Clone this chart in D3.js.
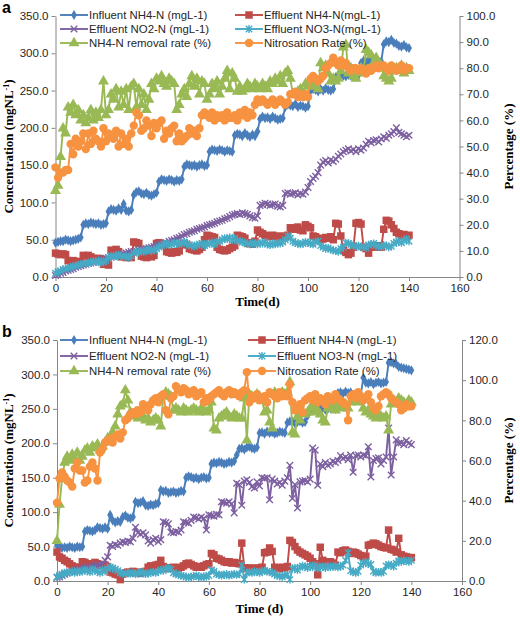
<!DOCTYPE html>
<html><head><meta charset="utf-8">
<script src="https://cdn.jsdelivr.net/npm/d3@7"></script>
<style>body{margin:0;background:#fff}</style>
</head><body>
<svg id="c" width="520" height="617"></svg>
<script>
// ---------- DATA ----------
const days = d3.range(0, 141);
const xTickValues = [0,20,40,60,80,100,120,140,160];
const leftTickValues = [0,50,100,150,200,250,300,350];
const rightTickValuesA = [0,10,20,30,40,50,60,70,80,90,100];
const rightTickValuesB = [0,20,40,60,80,100,120];

const legendNamesA = ["Influent NH4-N (mgL-1)","Effluent NH4-N(mgL-1)","Effluent NO2-N (mgL-1)","Effluent NO3-N(mgL-1)","NH4-N removal rate (%)","Nitrosation Rate (%)"];
const legendNamesB = ["Influent NH4-N (mgL-1)","Effluent NH4-N (mgL-1)","Effluent NO2-N (mgL-1)","Effluent NO3-N (mgL-1)","NH4-N removal rate (%)","Nitrosation Rate (%)"];

// Panel a
const aInfluent = [46,47,48,48,50,49,48,49,50,51, 53,70,72,71,73,72,71,72,70,71, 72,88,91,90,89,92,90,98,89,88,
  90,110,114,115,112,111,113,110,109,111, 113,128,131,130,129,131,130,128,130,129, 131,148,151,150,149,150,148,150,151,149,
  150,168,171,170,169,171,170,168,170,169, 168,190,192,191,189,193,190,188,191,189, 195,212,215,213,214,212,215,213,211,212,
  213,228,231,230,229,232,228,230,229,227, 229,250,252,251,249,252,250,253,251,250, 252,268,270,272,270,269,271,270,272,270,
  271,287,290,288,291,289,287,290,288,289, 312,316,315,318,314,313,310,309,311,308, 307];
const aEffNH4 = [32,31,30,31,30,22,21,22,20,21, 20,29,28,29,27,25,24,25,24,17, 18,16,36,35,37,34,27,28,26,27,
  26,47,46,45,28,27,26,28,27,29, 45,46,44,43,34,33,32,34,33,35, 44,45,43,38,37,36,35,37,40,50,
  56,55,54,53,40,37,36,35,36,38, 40,42,56,55,54,52,45,46,44,48, 63,60,58,56,55,54,56,55,54,53,
  55,54,56,66,65,64,67,63,62,70, 68,66,55,54,52,50,51,53,52,54, 50,72,71,55,36,33,30,32,40,72,
  73,71,40,38,32,40,41,40,42,40, 64,76,75,70,65,60,58,56,57,55, 56];
const aNO2 = [2,3,5,6,8,9,10,11,13,14, 15,16,17,18,19,20,21,22,22,24, 25,26,27,28,28,29,30,31,32,33,
  34,34,35,36,37,38,38,39,40,41, 42,43,44,46,46,48,49,50,52,53, 55,57,58,60,61,62,64,65,66,67,
  69,70,71,72,74,75,76,78,79,81, 83,84,85,84,86,85,84,82,80,79, 82,96,97,99,98,96,97,98,95,94,
  96,112,113,111,112,113,110,112,111,114, 120,128,132,135,140,150,154,156,153,157, 155,158,162,165,168,170,172,169,171,168,
  172,170,173,178,182,180,183,184,181,185, 188,186,190,192,195,200,194,192,190,188, 190];
const aNO3 = [5,7,8,10,11,12,13,14,15,16, 17,18,18,19,20,21,20,22,19,20, 22,26,28,27,29,30,28,27,28,26,
  28,32,34,33,35,34,36,37,35,36, 38,40,42,44,45,43,44,46,45,44, 46,47,45,43,42,41,43,44,45,42,
  44,45,46,44,47,48,50,52,51,53, 50,52,49,48,47,46,45,44,46,45, 44,46,45,47,44,43,45,44,46,45,
  47,50,55,52,48,46,45,44,45,47, 46,45,44,47,48,42,40,38,39,37, 36,35,34,38,40,46,45,44,42,41,
  42,40,41,39,43,44,45,42,41,40, 43,42,40,41,45,47,48,46,49,51, 48];
const aRemoval = [33,35,46,57,55,65,63,66,62,64, 60,62,59,61,64,60,63,61,64,75, 62,64,70,68,72,65,71,66,72,64,
  73,74,65,72,66,70,64,68,74,72, 76,75,77,74,73,76,75,74,64,66, 70,72,69,74,77,73,76,70,75,74,
  68,70,74,72,75,70,73,76,79,72, 78,76,71,73,71,72,74,73,72,74, 73,72,74,73,72,75,74,76,75,77,
  74,78,79,76,70,70,71,72,70,74, 73,75,74,73,72,82,80,81,78,75, 76,75,76,79,88,89,78,80,77,76,
  78,80,79,87,86,85,82,84,82,81, 77,76,75,76,79,80,79,81,78,80, 79];
const aNitros = [42,38,40,40,41,41,51,47,53,50, 52,55,49,55,51,56,53,52,50,57, 52,55,54,53,56,50,55,51,53,50,
  55,58,63,62,56,57,60,58,54,59, 57,59,60,53,56,55,57,58,52,55, 52,53,54,57,55,56,54,57,62,63,
  62,61,63,60,62,61,62,60,63,61, 61,62,60,63,62,64,61,63,62,66, 68,67,68,67,66,67,68,66,67,68,
  67,66,67,70,70,71,69,70,69,70, 69,76,77,76,75,76,77,80,81,82, 84,82,81,83,81,82,80,79,80,80,
  79,80,79,78,80,79,80,81,80,81, 81,80,79,81,80,79,80,81,79,80, 80];

// Panel b
const bInfluent = [52,50,48,49,48,50,49,48,50,49, 50,72,74,73,72,74,78,77,76,78, 76,96,88,85,87,86,93,95,92,91,
  93,115,113,114,116,110,109,111,110,112, 113,132,130,131,128,129,130,128,129,131, 130,150,152,151,149,150,148,150,151,149,
  150,170,172,171,173,172,170,171,173,172, 174,183,192,193,191,194,195,193,192,194, 215,216,214,217,215,216,214,215,217,216,
  215,230,232,231,229,231,232,230,231,240, 248,251,249,250,252,251,249,250,251,252, 250,273,274,272,275,273,274,270,269,271,
  270,295,288,287,289,286,288,289,287,288, 289,317,318,316,315,311,310,309,308,307, 306];
const bEffNH4 = [42,35,33,30,28,25,22,20,20,19, 28,27,25,24,25,27,25,23,24,23, 21,13,12,10,9,2,10,12,13,12,
  14,13,12,11,13,14,20,22,21,23, 24,30,21,19,18,19,20,18,19,20, 22,25,26,24,22,20,21,20,22,24,
  25,40,38,33,32,30,28,27,28,26, 27,26,25,55,19,18,19,18,17,19, 18,20,41,42,48,43,20,19,18,20,
  19,21,59,56,50,45,42,40,38,36, 33,28,25,9,49,30,28,27,28,26, 23,42,41,44,45,43,40,42,41,39,
  37,35,36,52,53,55,54,52,50,49, 48,74,46,45,42,62,38,36,35,34, 34];
const bNO2 = [5,6,8,10,12,13,14,15,16,17, 18,19,20,20,21,22,23,24,25,30, 35,52,50,53,52,55,57,56,58,57,
  62,78,70,68,70,67,58,55,60,62, 57,60,86,85,83,71,70,72,71,74, 86,85,84,88,93,92,90,93,91,74,
  96,95,94,97,96,115,114,113,115,112, 99,142,140,110,145,147,143,137,135,144, 138,150,149,150,118,148,145,141,143,139,
  145,150,168,120,140,106,144,145,146,144, 148,193,190,139,170,166,172,168,170,174, 172,175,182,178,180,176,183,158,182,183,
  180,183,182,195,151,175,178,179,170,175, 180,222,154,180,205,200,201,198,204,200, 198];
const bNO3 = [6,8,10,12,11,13,14,12,15,13, 14,16,15,13,17,15,14,12,16,14, 18,20,19,17,15,12,11,10,12,11,
  12,10,11,13,12,10,11,12,13,12, 14,16,15,18,19,17,12,10,9,8, 7,6,5,6,7,8,6,5,7,6,
  8,16,14,10,9,8,9,10,8,9, 10,9,10,23,2,12,13,12,14,13, 12,14,15,14,13,12,10,8,7,6,
  8,9,2,18,19,16,20,22,21,19, 22,20,23,18,20,21,19,22,20,21, 22,20,21,23,30,41,15,13,12,14,
  23,26,28,25,24,14,12,13,12,14, 22,24,23,21,26,29,28,30,29,28, 30];
const bRemoval = [20,38,51,59,62,60,63,61,64,60, 62,65,66,64,67,66,68,65,67,69, 71,72,74,77,83,87,88,95,90,84,
  82,84,81,83,82,80,81,79,80,81, 80,77,92,94,93,92,85,86,85,84, 86,85,84,85,86,85,84,86,85,84,
  85,89,76,75,81,82,83,84,82,81, 83,82,81,81,91,70,93,92,91,93, 92,90,84,85,79,76,94,93,92,94,
  93,94,99,74,73,82,80,84,83,84, 86,87,84,85,83,80,79,86,87,86, 85,88,86,87,88,86,89,90,91,89,
  90,86,84,85,83,82,81,83,82,81, 82,75,88,90,89,91,90,89,88,90, 89];
const bNitros = [39,51,54,52,50,49,47,56,59,55, 55,49,50,57,59,56,50,64,66,69, 70,71,69,72,73,71,74,80,81,83,
  84,83,85,84,88,86,85,88,90,91, 89,92,93,85,83,91,92,97,95,94, 96,95,93,94,95,92,93,94,89,91,
  90,92,93,94,95,93,92,94,95,93, 94,93,92,94,95,104,89,92,91,93, 90,91,92,89,94,93,92,91,94,92,
  93,92,98,89,85,86,88,84,90,91, 92,90,93,89,91,90,88,92,91,90, 93,91,90,89,88,80,92,93,91,94,
  92,90,91,93,89,86,85,87,92,93, 94,93,91,90,89,88,85,86,88,87, 87];

// ---------- STYLE ----------
const colors = ["#4A7EBB","#BE4B48","#7D60A0","#46AAC5","#98B954","#F69240"];
const axisColor = "#868686";
const textColor = "#262626";
const sym = {
  diamond: d3.symbol().type(d3.symbolDiamond).size(30)(),
  square: d3.symbol().type(d3.symbolSquare).size(56)(),
  xmark: "M-3.3,-3.3L3.3,3.3M-3.3,3.3L3.3,-3.3",
  star: "M-3.2,-3.2L3.2,3.2M-3.2,3.2L3.2,-3.2M0,-4L0,4",
  triangle: d3.symbol().type(d3.symbolTriangle).size(52)(),
  circle: d3.symbol().type(d3.symbolCircle).size(56)()
};
const symKeys = ["diamond","square","xmark","star","triangle","circle"];

const svg = d3.select("#c");

function drawPanel(cfg) {
  const g = svg.append("g");
  const x = d3.scaleLinear().domain([0,160]).range([cfg.x0, cfg.x1]);
  const yL = d3.scaleLinear().domain([0,350]).range([cfg.yBot, cfg.yTop]);
  const yR = d3.scaleLinear().domain([0,cfg.rightMax]).range([cfg.yBot, cfg.yTop]);

  const fmt = d3.format(".1f");
  const styleAxis = a => {
    a.select(".domain").attr("stroke", axisColor).attr("stroke-width",1);
    a.selectAll(".tick line").attr("stroke", axisColor);
    a.selectAll(".tick text").attr("fill", textColor).style("font-family","'Liberation Sans',Arial,sans-serif").style("font-size","11.5px");
  };
  g.append("g").attr("transform",`translate(${cfg.x0},0)`)
    .call(d3.axisLeft(yL).tickValues(leftTickValues).tickFormat(fmt).tickSize(4).tickSizeOuter(0)).call(styleAxis);
  g.append("g").attr("transform",`translate(${cfg.x1},0)`)
    .call(d3.axisRight(yR).tickValues(cfg.rightTicks).tickFormat(fmt).tickSize(4).tickSizeOuter(0)).call(styleAxis);
  g.append("g").attr("transform",`translate(0,${cfg.yBot})`)
    .call(d3.axisBottom(x).tickValues(xTickValues).tickFormat(d3.format("d")).tickSize(4).tickSizeOuter(0)).call(styleAxis);

  // series
  cfg.series.forEach((vals, i) => {
    const yS = i >= 4 ? yR : yL;
    const pts = days.map((d, k) => [x(d), yS(vals[k])]);
    g.append("path").attr("d", d3.line()(pts)).attr("fill","none")
      .attr("stroke", colors[i]).attr("stroke-width", 1.9).attr("stroke-linejoin","round");
    const isStroke = (symKeys[i] === "xmark" || symKeys[i] === "star");
    g.append("g").selectAll("path").data(pts).join("path")
      .attr("d", sym[symKeys[i]])
      .attr("transform", p => `translate(${p[0]},${p[1]})`)
      .attr("fill", isStroke ? "none" : colors[i])
      .attr("stroke", isStroke ? colors[i] : "none")
      .attr("stroke-width", isStroke ? 1.4 : 0);
  });

  // legend
  const font = "'Liberation Sans',Arial,sans-serif";
  const legendOrder = [[0,0],[2,1],[4,2],[1,0],[3,1],[5,2]];
  legendOrder.forEach(([si,row], j) => {
    const col = j < 3 ? cfg.col1 : cfg.col2;
    const yy = cfg.legendRows[row];
    const lg = g.append("g");
    lg.append("line").attr("x1", col).attr("x2", col+28).attr("y1", yy).attr("y2", yy)
      .attr("stroke", colors[si]).attr("stroke-width", 1.9);
    const isStroke = (symKeys[si] === "xmark" || symKeys[si] === "star");
    lg.append("path").attr("d", sym[symKeys[si]]).attr("transform", `translate(${col+14},${yy})`)
      .attr("fill", isStroke ? "none" : colors[si]).attr("stroke", isStroke ? colors[si] : "none").attr("stroke-width", 1.4);
    lg.append("text").attr("x", col+29).attr("y", yy+4).text(cfg.names[si])
      .attr("fill", textColor).style("font-family", font).style("font-size","11.4px");
  });

  // titles
  const serif = "'Liberation Serif','Times New Roman',serif";
  const yc = (cfg.yTop + cfg.yBot)/2;
  const lt = g.append("text").attr("transform", `translate(13,${yc}) rotate(-90)`).attr("text-anchor","middle")
    .style("font-family", serif).style("font-weight","bold").style("font-size","13px").attr("fill","#000");
  lt.append("tspan").text("Concentration (mgNL");
  lt.append("tspan").text("-1").attr("dy", -4).style("font-size","8px");
  lt.append("tspan").text(")").attr("dy", 4);
  g.append("text").attr("transform", `translate(513,${yc}) rotate(-90)`).attr("text-anchor","middle")
    .style("font-family", serif).style("font-weight","bold").style("font-size","13px").attr("fill","#000")
    .text("Percentage (%)");
  g.append("text").attr("x", (cfg.x0 + cfg.x1)/2).attr("y", cfg.xTitleY).attr("text-anchor","middle")
    .style("font-family", serif).style("font-weight","bold").style("font-size","13px").attr("fill","#000")
    .text(cfg.xTitle);
  g.append("text").attr("x", 2).attr("y", cfg.labelY).text(cfg.label)
    .style("font-family","'Liberation Sans',Arial,sans-serif").style("font-weight","bold").style("font-size","16px").attr("fill","#000");
}

drawPanel({x0:55.5, x1:459.5, yTop:16, yBot:277, rightMax:100, rightTicks:rightTickValuesA,
  series:[aInfluent,aEffNH4,aNO2,aNO3,aRemoval,aNitros], names:legendNamesA,
  legendRows:[15,29,43], col1:60, col2:235, xTitle:"Time(d)", xTitleY:306, label:"a", labelY:13});
drawPanel({x0:57, x1:462, yTop:340, yBot:581, rightMax:120, rightTicks:rightTickValuesB,
  series:[bInfluent,bEffNH4,bNO2,bNO3,bRemoval,bNitros], names:legendNamesB,
  legendRows:[340,356,371], col1:60, col2:248, xTitle:"Time (d)", xTitleY:613, label:"b", labelY:337});
</script>
</body></html>
